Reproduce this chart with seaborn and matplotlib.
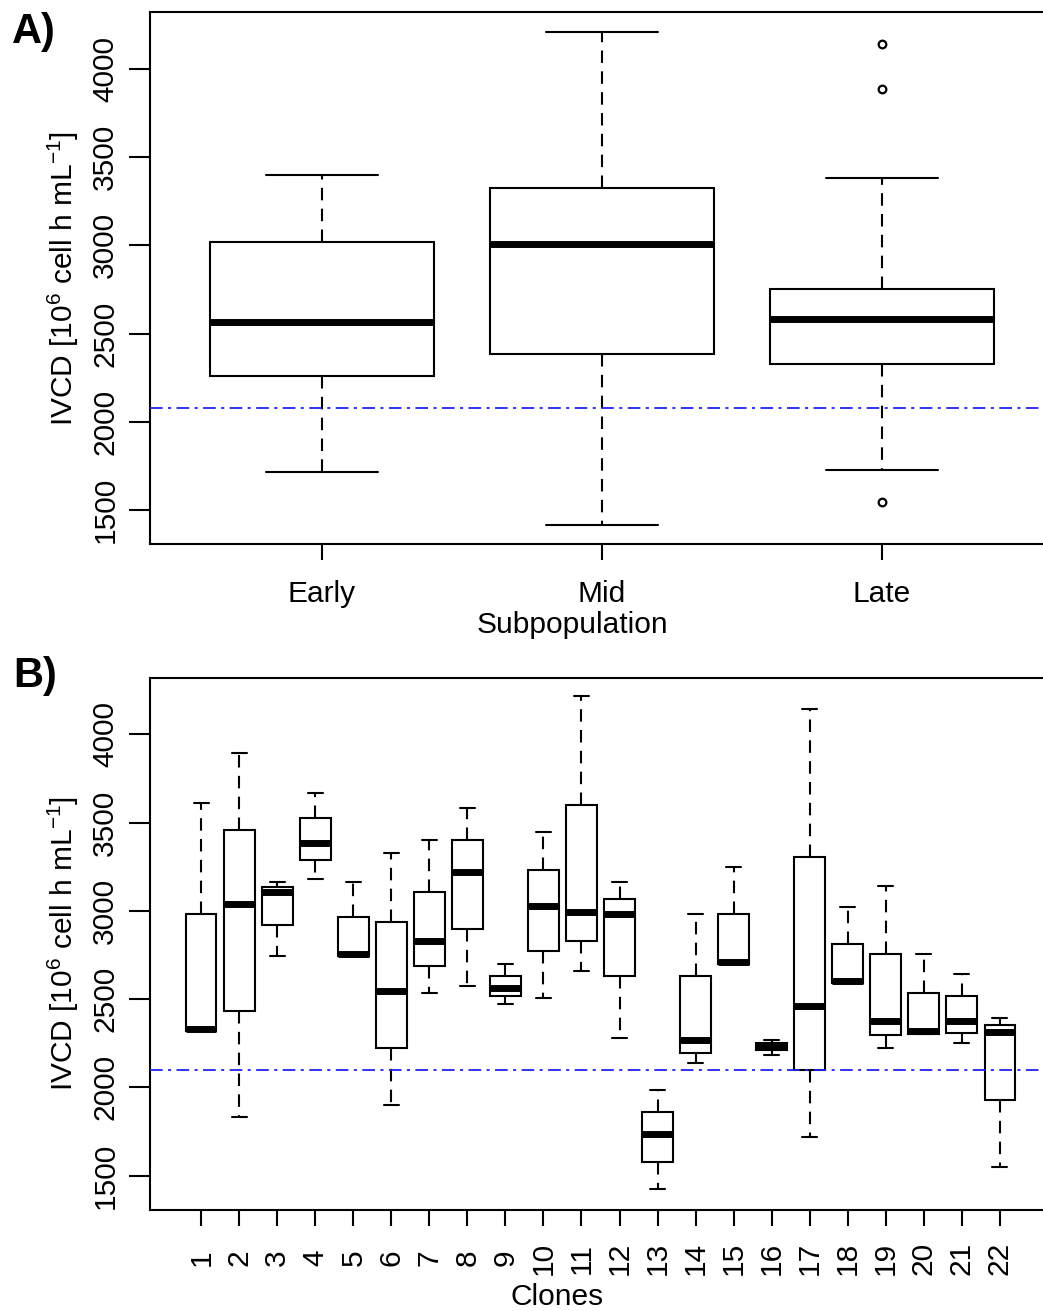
import matplotlib
matplotlib.use("Agg")
import matplotlib.pyplot as plt
import numpy as np
import pandas as pd
import seaborn as sns

# ---------------- data ----------------
# Panel A: subpopulations (five-number summaries + outliers)
subpops = ["Early", "Mid", "Late"]
sub_whislo = [1714, 1417, 1725]
sub_q1 = [2260, 2386, 2329]
sub_med = [2566, 3008, 2581]
sub_q3 = [3019, 3325, 2751]
sub_whishi = [3399, 4210, 3380]
outlier_group = ["Late", "Late", "Late"]
outlier_values = [1544, 3888, 4140]
threshold_a = 2080

# Panel B: clones
clones = [str(i) for i in range(1, 23)]
clone_whislo = [2320, 1830, 2742, 3178, 2744, 1898, 2533, 2575, 2475, 2506, 2659,
                2280, 1424, 2140, 2697, 2184, 1719, 2592, 2223, 2305, 2251, 1551]
clone_q1 = [2320, 2430, 2921, 3287, 2744, 2223, 2686, 2896, 2515, 2772, 2831,
            2630, 1577, 2196, 2697, 2209, 2100, 2592, 2295, 2305, 2309, 1928]
clone_med = [2332, 3038, 3108, 3385, 2753, 2545, 2829, 3218, 2563, 3025, 2996,
             2984, 1736, 2267, 2711, 2228, 2462, 2605, 2378, 2318, 2378, 2314]
clone_q3 = [2980, 3457, 3133, 3527, 2965, 2938, 3109, 3404, 2630, 3233, 3597,
            3067, 1861, 2630, 2984, 2253, 3304, 2814, 2755, 2535, 2519, 2353]
clone_whishi = [3610, 3893, 3163, 3667, 3163, 3329, 3402, 3584, 2701, 3444, 4219,
                3162, 1983, 2982, 3249, 2270, 4144, 3023, 3138, 2755, 2644, 2393]
threshold_b = 2100

ytick_values = [1500, 2000, 2500, 3000, 3500, 4000]
ytick_labels = ["1500", "2000", "2500", "3000", "3500", "4000"]
ylabel_text = r"IVCD [$\mathregular{10^{6}}$ cell h m$\mathregular{L^{-1}}$]"


def sample_from_summary(names, lo, q1, med, q3, hi, k=10):
    """Build a sample whose quartiles / extremes equal the given summary."""
    rows = []
    for n, a, b, c, d, e in zip(names, lo, q1, med, q3, hi):
        vals = [a] + [b] * k + [c] * k + [d] * k + [e]
        rows += [(n, v) for v in vals]
    return pd.DataFrame(rows, columns=["group", "value"])


df_a = sample_from_summary(subpops, sub_whislo, sub_q1, sub_med, sub_q3, sub_whishi)
df_b = sample_from_summary(clones, clone_whislo, clone_q1, clone_med, clone_q3, clone_whishi)

# ---------------- style ----------------
sns.set_style("ticks")
plt.rcParams["font.family"] = ["Liberation Sans", "DejaVu Sans"]
plt.rcParams["mathtext.fontset"] = "custom"
plt.rcParams["mathtext.rm"] = "Liberation Sans"
plt.rcParams["mathtext.it"] = "Liberation Sans:italic"
plt.rcParams["mathtext.bf"] = "Liberation Sans:bold"
for key in ["text.color", "axes.labelcolor", "xtick.color", "ytick.color",
            "xtick.labelcolor", "ytick.labelcolor", "axes.edgecolor"]:
    plt.rcParams[key] = "black"

FS = 21.5
LW = 1.5
W, H = 1043, 1311

fig = plt.figure(figsize=(W / 100, H / 100), dpi=100)
ax_w = 905 / W
axA = fig.add_axes([150 / W, 1 - 544.3 / H, ax_w, 532 / H])
axB = fig.add_axes([150 / W, 1 - 1210 / H, ax_w, 532.3 / H])

box_kws = dict(
    whis=(0, 100), width=0.8, color="white", linecolor="black", linewidth=LW,
    saturation=1, fliersize=0,
    boxprops=dict(facecolor="white", edgecolor="black", linewidth=LW),
    medianprops=dict(color="black", linewidth=5, solid_capstyle="butt"),
    whiskerprops=dict(color="black", linewidth=LW, linestyle=(0, (6, 4))),
    capprops=dict(color="black", linewidth=LW),
)

sns.boxplot(data=df_a, x="group", y="value", order=subpops, ax=axA, **box_kws)
sns.stripplot(x=outlier_group, y=outlier_values, order=subpops, jitter=False, ax=axA,
              color="white", edgecolor="black", linewidth=1.6, size=5.5, zorder=5)
sns.boxplot(data=df_b, x="group", y="value", order=clones, ax=axB, **box_kws)

blue_style = dict(color="#2222ee", linewidth=1.3, linestyle=(0, (7, 3, 1.7, 3)), zorder=6)
axA.axhline(threshold_a, **blue_style)
axB.axhline(threshold_b, **blue_style)

# ---------------- axes formatting ----------------
for ax in (axA, axB):
    ax.set_ylim(1305, 4321)
    ax.set_yticks(ytick_values)
    ax.set_yticklabels(ytick_labels, rotation=90, va="center", ha="right",
                       fontsize=FS, color="black")
    ax.tick_params(axis="y", length=14.9, width=LW, pad=7.2, color="black")
    ax.tick_params(axis="x", length=11.5, width=LW, color="black")
    for s in ax.spines.values():
        s.set_visible(True)
        s.set_linewidth(LW)
        s.set_color("black")
    ax.set_ylabel(ylabel_text, fontsize=FS, color="black")
    ax.yaxis.set_label_coords(-0.0759, 0.5)
    ax.grid(False)

axA.set_xlim(-0.613, -0.613 + 905 / 280)
axA.set_xticks(range(len(subpops)))
axA.set_xticklabels(subpops, fontsize=FS, color="black")
axA.tick_params(axis="x", pad=14.2)
axA.set_xlabel("Subpopulation", fontsize=FS, color="black")
axA.xaxis.set_label_coords(0.4663, -0.1254)

axB.set_xlim(-1.349, -1.349 + 905 / 38.02)
axB.set_xticks(range(len(clones)))
axB.set_xticklabels(clones, rotation=90, va="center", ha="center", fontsize=FS, color="black")
axB.tick_params(axis="x", pad=23.1)
axB.set_xlabel("Clones", fontsize=FS, color="black")
axB.xaxis.set_label_coords(0.4497, -0.1380)

fig.text(12 / W, 1 - 43.3 / H, "A)", fontsize=30, fontweight="bold", ha="left",
         va="baseline", color="black")
fig.text(13 / W, 1 - 686.7 / H, "B)", fontsize=30, fontweight="bold", ha="left",
         va="baseline", color="black")

fig.savefig("out.png", dpi=100)
